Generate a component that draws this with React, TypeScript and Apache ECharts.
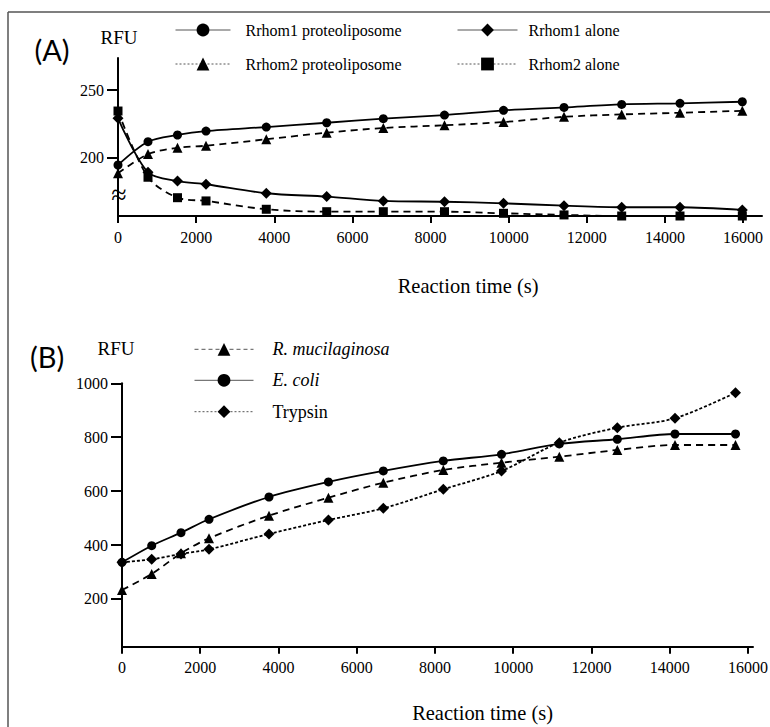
import React, { useEffect, useRef } from "react";
import * as echarts from "echarts";

// ---------- Panel A data ----------
const timeA = [0, 768, 1523, 2253, 3796, 5343, 6792, 8358, 9869, 11418, 12894, 14387, 15982];
const rrhom1Lipo = [194.3, 211.6, 216.6, 219.5, 222.5, 225.7, 228.7, 231.4, 234.9, 237.1, 239.3, 240.1, 241.3];
const rrhom2Lipo = [188.1, 202.4, 207.1, 208.6, 213.4, 218.3, 221.8, 223.8, 226.2, 230.1, 231.9, 233.1, 234.6];
const rrhom1Alone = [229.0, 188.9, 182.4, 180.0, 173.3, 170.8, 167.6, 167.0, 165.8, 164.1, 162.9, 162.9, 160.9];
const rrhom2Alone = [234.4, 185.2, 170.0, 167.6, 161.4, 159.6, 159.6, 159.6, 158.4, 157.2, 156.4, 156.4, 156.4];

// ---------- Panel B data ----------
const timeB = [0, 759, 1508, 2224, 3757, 5276, 6679, 8212, 9700, 11177, 12660, 14134, 15681];
const rMucilaginosa = [233.4, 292.7, 369.5, 425.1, 509.0, 575.7, 631.4, 678.5, 705.6, 727.8, 752.7, 771.2, 771.2];
const eColi = [336.0, 397.7, 446.0, 495.6, 578.3, 634.0, 674.8, 711.9, 736.7, 775.0, 792.4, 812.0, 812.0];
const trypsin = [336.0, 347.3, 366.9, 384.3, 441.1, 493.0, 536.4, 606.9, 674.8, 779.7, 835.4, 870.2, 965.2];

// ---------- Tick labels ----------
const xTicks = [0, 2000, 4000, 6000, 8000, 10000, 12000, 14000, 16000];
const yTicksA = [200, 250];
const yTicksB = [200, 400, 600, 800, 1000];

const serif = "Liberation Serif";
const sans = "Lato";

function pairs(xs: number[], ys: number[]) {
  return xs.map((x, i) => [x, ys[i]]);
}

export default function App() {
  const ref = useRef<HTMLDivElement>(null);

  useEffect(() => {
    if (!ref.current) return;
    const chart = echarts.init(ref.current, null, { renderer: "svg" });

    const axisLine = { show: true, lineStyle: { color: "#000", width: 2 } };
    const labelStyle = {
      color: "#000",
      fontFamily: serif,
      fontSize: 16,
      formatter: (v: number) => String(v),
    };

    const xAxisCfg = (gridIndex: number, max: number) => ({
      type: "value",
      gridIndex,
      min: 0,
      max,
      axisLine,
      axisTick: { show: true, length: 7, lineStyle: { color: "#000", width: 2 }, customValues: xTicks },
      axisLabel: { ...labelStyle, margin: 13, customValues: xTicks },
      splitLine: { show: false },
    });

    const yAxisCfg = (gridIndex: number, min: number, max: number, ticks: number[]) => ({
      type: "value",
      gridIndex,
      min,
      max,
      axisLine,
      axisTick: { show: true, length: 11, lineStyle: { color: "#000", width: 2 }, customValues: ticks },
      axisLabel: { ...labelStyle, margin: 14, customValues: ticks },
      splitLine: { show: false },
    });

    const series = (
      name: string,
      xi: number,
      xs: number[],
      ys: number[],
      symbol: string,
      symbolSize: number,
      lineType: any
    ) => ({
      name,
      type: "line",
      xAxisIndex: xi,
      yAxisIndex: xi,
      data: pairs(xs, ys),
      symbol,
      symbolSize,
      smooth: 0.3,
      clip: false,
      itemStyle: { color: "#000" },
      lineStyle: { color: "#000", width: 1.8, type: lineType },
    });

    const legendItem = (
      left: number,
      top: number,
      width: number,
      name: string,
      lineType: any,
      fontSize: number,
      italic: boolean,
      padLeft: number
    ) => ({
      left,
      top,
      orient: "horizontal",
      padding: 0,
      itemWidth: width,
      itemHeight: 16,
      selectedMode: false,
      data: [{ name, lineStyle: { color: "#555", width: 1, type: lineType } }],
      textStyle: {
        color: "#000",
        fontFamily: serif,
        fontSize,
        fontStyle: italic ? "italic" : "normal",
        padding: [0, 0, 0, padLeft],
      },
    });

    const text = (x: number, y: number, t: string, fontSize: number, family = serif, extra: any = {}) => ({
      type: "text",
      x,
      y,
      ...extra,
      style: {
        text: t,
        fill: "#000",
        fontSize,
        fontFamily: family,
        align: "center",
        verticalAlign: "middle",
        textAlign: "center",
        textVerticalAlign: "middle",
      },
    });

    chart.setOption({
      animation: false,
      backgroundColor: "#fff",
      textStyle: { fontFamily: serif },
      grid: [
        { left: 118, top: 58, width: 644, height: 158, containLabel: false, outerBoundsMode: "none" },
        { left: 122, top: 383.3, width: 631, height: 263.4, containLabel: false, outerBoundsMode: "none" },
      ],
      xAxis: [xAxisCfg(0, 16486), xAxisCfg(1, 16128)],
      yAxis: [yAxisCfg(0, 156.4, 273.8, yTicksA), yAxisCfg(1, 23, 1000, yTicksB)],
      legend: [
        legendItem(175, 22, 55, "Rrhom1 proteoliposome", "solid", 16, false, 10),
        legendItem(175, 56, 55, "Rrhom2 proteoliposome", [2, 2], 16, false, 10),
        legendItem(457, 22, 60, "Rrhom1 alone", "solid", 16, false, 6),
        legendItem(457, 56, 60, "Rrhom2 alone", [2, 2], 16, false, 6),
        legendItem(194, 340.3, 59, "R. mucilaginosa", [4, 3], 18, true, 14),
        legendItem(194, 371.3, 59, "E. coli", "solid", 18, true, 14),
        legendItem(194, 402.7, 59, "Trypsin", [2, 2], 18, false, 14),
      ],
      series: [
        series("Rrhom1 proteoliposome", 0, timeA, rrhom1Lipo, "circle", 9, "solid"),
        series("Rrhom2 proteoliposome", 0, timeA, rrhom2Lipo, "triangle", 10, [7, 5]),
        series("Rrhom1 alone", 0, timeA, rrhom1Alone, "diamond", 11, "solid"),
        series("Rrhom2 alone", 0, timeA, rrhom2Alone, "rect", 9, [7, 5]),
        series("R. mucilaginosa", 1, timeB, rMucilaginosa, "triangle", 10, [7, 5]),
        series("E. coli", 1, timeB, eColi, "circle", 9, "solid"),
        series("Trypsin", 1, timeB, trypsin, "diamond", 11, [3, 2]),
      ],
      graphic: [
        { type: "line", shape: { x1: 8, y1: 12, x2: 770, y2: 12 }, style: { stroke: "#555", lineWidth: 1.5 } },
        { type: "line", shape: { x1: 8, y1: 12, x2: 8, y2: 727 }, style: { stroke: "#555", lineWidth: 1.5 } },
        text(52, 49, "(A)", 29, sans),
        text(47, 356, "(B)", 29, sans),
        text(119, 37, "RFU", 19),
        text(116, 348, "RFU", 19),
        text(119, 194, "≈", 28),
        text(437.5, 286, "Reaction time (s)", 22, serif, { scaleX: 0.93, originX: 437.5, originY: 286 }),
        text(451, 713, "Reaction time (s)", 22, serif, { scaleX: 0.93, originX: 451, originY: 713 }),
      ],
    });

    return () => chart.dispose();
  }, []);

  return (
    <div
      ref={ref}
      style={{ position: "absolute", left: 0, top: 0, width: 770, height: 727, background: "#fff" }}
    />
  );
}
